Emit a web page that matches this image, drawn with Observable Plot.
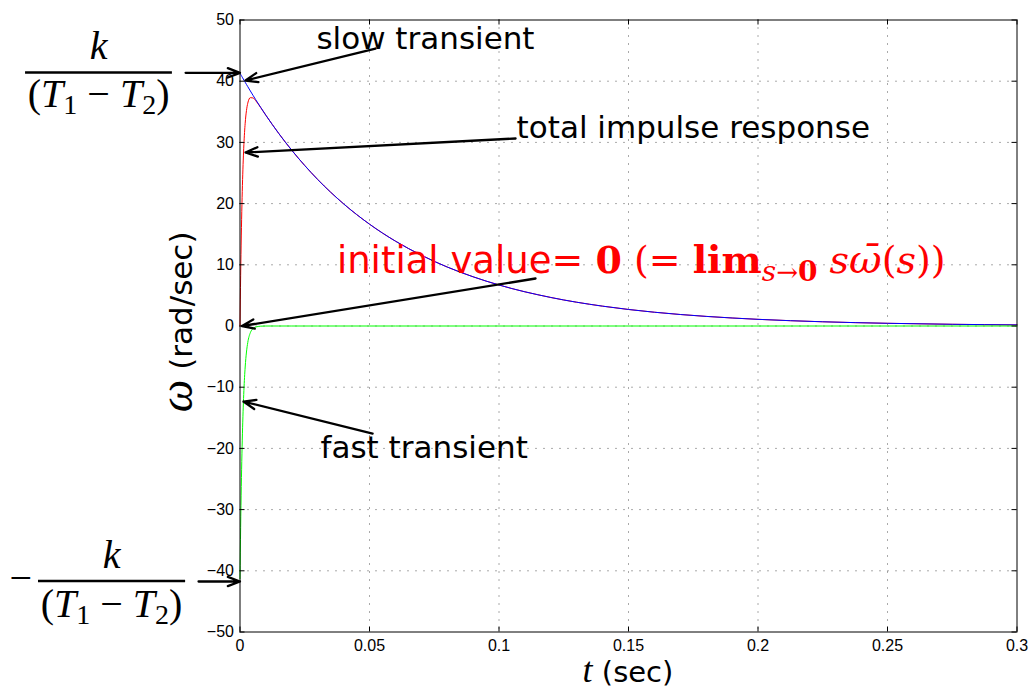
<!DOCTYPE html>
<html>
<head>
<meta charset="utf-8">
<script src="https://cdn.jsdelivr.net/npm/d3@7"></script>
<script src="https://cdn.jsdelivr.net/npm/@observablehq/plot@0.6"></script>
<style>
  html, body { margin: 0; padding: 0; background: #fff; }
  #chart svg { display: block; }
</style>
</head>
<body>
<div id="chart"></div>
<script>
// ---- data ----
const tSec = [0, 0.00025, 0.0005, 0.00075, 0.001, 0.0015, 0.002, 0.0025, 0.003, 0.004, 0.005, 0.006, 0.008, 0.01,
  0.015, 0.02, 0.025, 0.03, 0.04, 0.05, 0.06, 0.07, 0.08, 0.09, 0.1, 0.12, 0.14, 0.16, 0.18, 0.2, 0.225, 0.25, 0.275, 0.3];
const slowTransient = [41.3, 41.11, 40.93, 40.74, 40.56, 40.19, 39.83, 39.46, 39.11, 38.40, 37.71, 37.03, 35.71, 34.43,
  31.44, 28.71, 26.22, 23.94, 19.96, 16.64, 13.87, 11.57, 9.64, 8.04, 6.70, 4.66, 3.24, 2.25, 1.57, 1.09, 0.69, 0.44, 0.28, 0.18];
const fastTransient = [-41.3, -32.90, -26.22, -20.89, -16.64, -10.56, -6.70, -4.25, -2.70, -1.09, -0.44, -0.18, -0.03, 0,
  0, 0, 0, 0, 0, 0, 0, 0, 0, 0, 0, 0, 0, 0, 0, 0, 0, 0, 0, 0];
const totalResponse = [0, 8.21, 14.71, 19.85, 23.92, 29.63, 33.13, 35.21, 36.41, 37.31, 37.27, 36.85, 35.68, 34.43,
  31.44, 28.71, 26.22, 23.94, 19.96, 16.64, 13.87, 11.57, 9.64, 8.04, 6.70, 4.66, 3.24, 2.25, 1.57, 1.09, 0.69, 0.44, 0.28, 0.18];

const xTicks = [0, 0.05, 0.1, 0.15, 0.2, 0.25, 0.3];
const xTickLabels = ["0", "0.05", "0.1", "0.15", "0.2", "0.25", "0.3"];
const yTicks = [-50, -40, -30, -20, -10, 0, 10, 20, 30, 40, 50];
const yTickLabels = ["\u221250", "\u221240", "\u221230", "\u221220", "\u221210", "0", "10", "20", "30", "40", "50"];

// annotation arrows (data units: t, omega)
const arrowTail_t = [-0.0210, -0.0160, 0.0523, 0.1064, 0.1141, 0.0512];
const arrowTail_w = [41.37, -41.75, 45.34, 30.64, 7.76, -17.57];
const arrowHead_t = [0, 0, 0.00212, 0.00212, 0.00077, 0.00135];
const arrowHead_w = [41.37, -41.75, 40.11, 28.35, 0, -12.34];

// annotation labels (data units)
const labelText = ["slow transient", "total impulse response", "fast transient"];
const label_t = [0.0295, 0.1068, 0.0311];
const label_w = [45.34, 30.64, -21.6];

// ---- build tables ----
const rows = (vals) => tSec.map((t, i) => ({t, v: vals[i]}));
const arrows = arrowTail_t.map((d, i) => ({x1: d, y1: arrowTail_w[i], x2: arrowHead_t[i], y2: arrowHead_w[i]}));

const W = 1036, H = 689;
const mL = 239.5, mR = 19.5, mT = 19.5, mB = 57.5;
const frameW = W - mL - mR, frameH = H - mT - mB;
const tickFont = "'Liberation Sans', Arial, Helvetica, sans-serif";
const sansFont = "'DejaVu Sans', 'Lucida Sans', sans-serif";
const serifFont = "'Liberation Serif', 'Times New Roman', serif";
const mathFont = "'DejaVu Serif', 'Liberation Serif', serif";

const plot = Plot.plot({
  width: W, height: H,
  marginLeft: mL, marginRight: mR, marginTop: mT, marginBottom: mB,
  x: {domain: [0, 0.3]},
  y: {domain: [-50, 50]},
  style: {fontFamily: tickFont, fontSize: "16px", background: "white", color: "black"},
  marks: [
    Plot.ruleX(xTicks.filter(d => d > 0 && d < 0.3), {stroke: "#555", strokeDasharray: "1,7", strokeWidth: 1}),
    Plot.ruleY(yTicks.filter(d => d > -50 && d < 50), {stroke: "#555", strokeDasharray: "1,7", strokeWidth: 1}),
    Plot.line(rows(totalResponse), {x: "t", y: "v", stroke: "#ff0000", strokeWidth: 1, curve: "monotone-x"}),
    Plot.line(rows(slowTransient), {x: "t", y: "v", stroke: "#0000ff", strokeWidth: 1, curve: "monotone-x"}),
    Plot.line(rows(fastTransient), {x: "t", y: "v", stroke: "#00ff00", strokeWidth: 1, curve: "monotone-x"}),
    Plot.frame({stroke: "black", strokeWidth: 1}),
    Plot.ruleX(xTicks, {insetTop: frameH - 5, stroke: "black"}),
    Plot.ruleX(xTicks, {insetBottom: frameH - 5, stroke: "black"}),
    Plot.ruleY(yTicks, {insetRight: frameW - 5, stroke: "black"}),
    Plot.ruleY(yTicks, {insetLeft: frameW - 5, stroke: "black"}),
    Plot.axisX({ticks: xTicks, tickSize: 0, tickPadding: 8, label: null, fontSize: 16,
      tickFormat: d => xTickLabels[xTicks.indexOf(d)]}),
    Plot.axisY({ticks: yTicks, tickSize: 0, tickPadding: 6, label: null, fontSize: 16,
      tickFormat: d => yTickLabels[yTicks.indexOf(d)]}),
    Plot.arrow(arrows, {x1: "x1", y1: "y1", x2: "x2", y2: "y2", stroke: "black", strokeWidth: 2.3,
      headLength: 8.5, headAngle: 42}),
    Plot.text(labelText, {x: (d, i) => label_t[i], y: (d, i) => label_w[i], text: d => d,
      textAnchor: "start", lineAnchor: "bottom", fontSize: 31, fontFamily: sansFont, fill: "black", dy: 0})
  ]
});

document.getElementById("chart").appendChild(plot);

// ---- rich-text annotations positioned with the plot's own scales ----
const X = v => plot.scale("x").apply(v);
const Y = v => plot.scale("y").apply(v);
const svg = d3.select(plot);
const g = svg.append("g").attr("class", "annotations").attr("text-anchor", "start");

function rich(x, y, parts, attrs = {}) {
  const t = g.append("text").attr("x", x).attr("y", y).attr("text-anchor", "start");
  for (const [k, v] of Object.entries(attrs)) t.attr(k, v);
  for (const p of parts) {
    const s = t.append("tspan").text(p.text)
      .attr("font-family", p.family || serifFont)
      .attr("font-size", p.size)
      .attr("font-style", p.italic ? "italic" : "normal")
      .attr("font-weight", p.bold ? "bold" : "normal");
    if (p.dy) s.attr("dy", p.dy);
  }
  return t;
}

// red "initial value" text
rich(X(0.0376), Y(8.58), [
  {text: "initial value", family: sansFont, size: 37},
  {text: "= ", family: mathFont, size: 38},
  {text: "0", family: mathFont, size: 38, bold: true},
  {text: " (= ", family: mathFont, size: 38},
  {text: "lim", family: mathFont, size: 38, bold: true},
  {text: "s", family: mathFont, size: 28, italic: true, dy: 8},
  {text: "\u2192", family: mathFont, size: 26},
  {text: "0", family: mathFont, size: 28, bold: true},
  {text: " s", family: mathFont, size: 38, italic: true, dy: -8},
  {text: "\u03C9\u0304", family: mathFont, size: 40, italic: true},
  {text: "(", family: mathFont, size: 38},
  {text: "s", family: mathFont, size: 38, italic: true},
  {text: "))", family: mathFont, size: 38}
], {fill: "#ff0000"});

// fractions on the left
const fracs = [
  {cx: -0.0544, kW: 43.55, barW: 41.34, bar0: -0.0828, bar1: -0.0261, denW: 35.70},
  {cx: -0.0494, kW: -39.62, barW: -41.75, bar0: -0.0778, bar1: -0.0210, denW: -47.63}
];
for (const f of fracs) {
  rich(X(f.cx), Y(f.kW), [{text: "k", size: 40, italic: true}], {"text-anchor": "middle", fill: "black"});
  g.append("line").attr("x1", X(f.bar0)).attr("x2", X(f.bar1)).attr("y1", Y(f.barW)).attr("y2", Y(f.barW))
    .attr("stroke", "black").attr("stroke-width", 2.3);
  rich(X(f.cx), Y(f.denW), [
    {text: "(", size: 40},
    {text: "T", size: 40, italic: true},
    {text: "1", size: 28, dy: 7},
    {text: " \u2212 ", size: 40, dy: -7},
    {text: "T", size: 40, italic: true},
    {text: "2", size: 28, dy: 7},
    {text: ")", size: 40, dy: -7}
  ], {"text-anchor": "middle", fill: "black"});
}
rich(X(-0.0844), Y(-43.38), [{text: "\u2212", size: 40}], {"text-anchor": "middle", fill: "black"});

// axis labels
rich(X(0.15), Y(-58.3), [
  {text: "t", size: 36, italic: true},
  {text: " (sec)", family: sansFont, size: 29}
], {"text-anchor": "middle", fill: "black"});

const yl = g.append("g").attr("transform", `translate(${X(-0.0184)},${Y(0.6)}) rotate(-90)`);
{
  const t = yl.append("text").attr("text-anchor", "middle").attr("fill", "black");
  t.append("tspan").text("\u03C9").attr("font-family", serifFont).attr("font-style", "italic").attr("font-size", 46);
  t.append("tspan").text(" (rad/sec)").attr("font-family", sansFont).attr("font-size", 31);
}
</script>
</body>
</html>
